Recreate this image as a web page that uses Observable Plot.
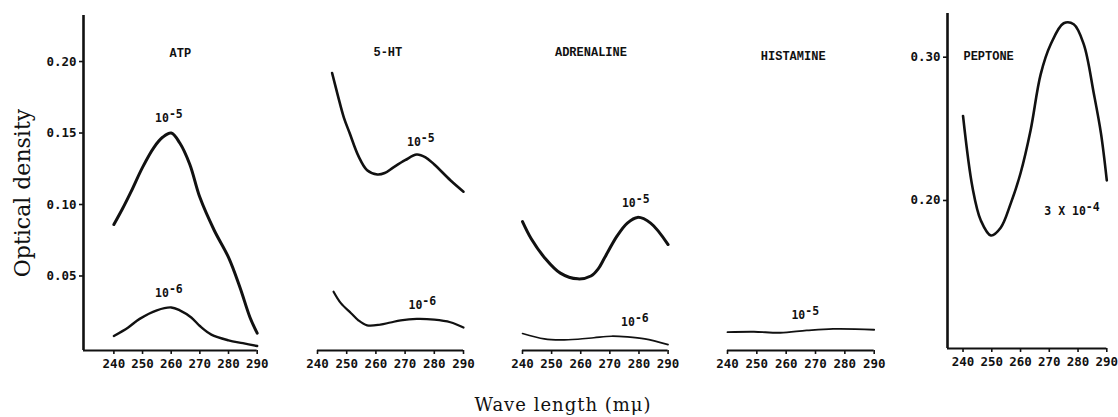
<!DOCTYPE html>
<html><head><meta charset="utf-8">
<script src="https://cdn.jsdelivr.net/npm/d3@7"></script>
<script src="https://cdn.jsdelivr.net/npm/@observablehq/plot@0.6"></script>
<style>
body{margin:0;background:#fff;}
#chart{position:relative;width:1118px;height:417px;overflow:hidden;background:#fff;}
#chart svg{position:absolute;top:0;background:transparent;}
.ylab{position:absolute;left:22px;top:193px;transform:translate(-50%,-50%) rotate(-90deg);font-family:"DejaVu Serif",serif;font-size:22px;white-space:nowrap;color:#111;}
.xlab{position:absolute;left:563px;top:404px;transform:translate(-50%,-50%);font-family:"DejaVu Serif",serif;font-size:18px;letter-spacing:1px;white-space:nowrap;color:#111;}
</style></head>
<body><div id="chart"><div class="ylab">Optical density</div><div class="xlab">Wave length (mμ)</div></div>
<script>
// ---- data ----
const wavelengthTicks = [240, 250, 260, 270, 280, 290];
const odTicksLeft = [0.05, 0.10, 0.15, 0.20];
const odTicksPeptone = [0.20, 0.30];

const atpWave5 = [240, 243, 246, 250, 254, 257, 260, 263, 266.5, 270, 275, 280, 284, 287.5, 290];
const atpOD5   = [0.086, 0.097, 0.109, 0.126, 0.140, 0.147, 0.150, 0.143, 0.128, 0.105, 0.082, 0.063, 0.042, 0.021, 0.010];
const atpWave6 = [240, 245, 249, 255, 260, 263, 267, 270, 274, 280, 285, 290];
const atpOD6   = [0.008, 0.014, 0.020, 0.026, 0.028, 0.026, 0.021, 0.015, 0.009, 0.005, 0.003, 0.001];

const htWave5 = [245, 247, 249, 251, 254, 257, 260.5, 263, 266, 270, 274, 277, 280, 285.5, 290];
const htOD5   = [0.192, 0.176, 0.161, 0.150, 0.134, 0.124, 0.121, 0.122, 0.126, 0.131, 0.135, 0.133, 0.128, 0.117, 0.109];
const htWave6 = [245.5, 248, 251.5, 254, 257, 261.5, 265, 268.5, 274, 280, 285.5, 290];
const htOD6   = [0.039, 0.031, 0.024, 0.019, 0.0155, 0.016, 0.0175, 0.019, 0.020, 0.0195, 0.0177, 0.014];

const adrWave5 = [240, 243, 247.5, 253, 259, 263.5, 266, 268, 272.5, 276, 279.5, 284, 290];
const adrOD5   = [0.088, 0.076, 0.063, 0.052, 0.048, 0.050, 0.055, 0.062, 0.078, 0.087, 0.091, 0.087, 0.072];
const adrWave6 = [240, 247.5, 253, 259, 264.5, 270.5, 276, 282, 290];
const adrOD6   = [0.0098, 0.006, 0.0053, 0.0058, 0.0068, 0.0079, 0.0074, 0.006, 0.002];

const hisWave5 = [240, 249, 258, 267, 276, 290];
const hisOD5   = [0.0107, 0.011, 0.0103, 0.0119, 0.013, 0.0124];

const pepWave = [240, 243.3, 246.2, 249.7, 253.1, 256.6, 260, 263.5, 267, 270.5, 275, 278.5, 282, 285.5, 288, 290];
const pepOD   = [0.259, 0.209, 0.186, 0.1756, 0.181, 0.198, 0.219, 0.249, 0.288, 0.309, 0.3237, 0.323, 0.309, 0.2745, 0.2465, 0.214];

const panelNames = ["ATP", "5-HT", "ADRENALINE", "HISTAMINE", "PEPTONE"];
const titleWave  = [263.2, 264.1, 263.5, 262.4, 248.9];
const titleOD    = [0.2056, 0.2063, 0.2063, 0.204, 0.301];

const labelPanel = [0, 0, 1, 1, 2, 2, 3, 4];
const labelBase  = ["10", "10", "10", "10", "10", "10", "10", "3 X 10"];
const labelExp   = ["-5", "-6", "-5", "-6", "-5", "-6", "-5", "-4"];
const labelWave  = [259.2, 259.2, 275.4, 275.9, 278.9, 278.6, 266.5, 282.7];
const labelOD    = [0.160, 0.0378, 0.1436, 0.0294, 0.101, 0.0173, 0.0224, 0.1925];

// ---- build ----
const zip = (ws, ods) => ws.map((w, i) => ({w, od: ods[i]}));
const labels = labelPanel.map((p, i) => ({p, w: labelWave[i], od: labelOD[i], base: labelBase[i], exp: labelExp[i]}));
const mono = "'DejaVu Sans Mono','Liberation Mono',monospace";
const mono2 = "'Liberation Mono','DejaVu Sans Mono',monospace";

const panels = [
  {xDomain: [229.4, 290], yDomain: [-0.0021, 0.2322], plotLeft: 83, plotRight: 256.7, top: 15, bottom: 350, yAxis: true, yTicks: odTicksLeft,
   series: [{d: zip(atpWave5, atpOD5), sw: 3}, {d: zip(atpWave6, atpOD6), sw: 2.4}]},
  {xDomain: [240, 290], yDomain: [-0.0021, 0.2322], plotLeft: 316.7, plotRight: 462.7, top: 15, bottom: 350, yAxis: false,
   series: [{d: zip(htWave5, htOD5), sw: 2.6}, {d: zip(htWave6, htOD6), sw: 2.2}]},
  {xDomain: [240, 290], yDomain: [-0.0021, 0.2322], plotLeft: 521.7, plotRight: 667.3, top: 15, bottom: 350, yAxis: false,
   series: [{d: zip(adrWave5, adrOD5), sw: 3}, {d: zip(adrWave6, adrOD6), sw: 1.6}]},
  {xDomain: [240, 290], yDomain: [-0.0021, 0.2322], plotLeft: 727.3, plotRight: 874, top: 15, bottom: 350, yAxis: false,
   series: [{d: zip(hisWave5, hisOD5), sw: 1.8}]},
  {xDomain: [234.6, 290], yDomain: [0.0967, 0.3305], plotLeft: 946.7, plotRight: 1106, top: 13, bottom: 348, yAxis: true, yTicks: odTicksPeptone,
   series: [{d: zip(pepWave, pepOD), sw: 2.6}]}
];

const chart = document.getElementById("chart");
const H = 390;
panels.forEach((cfg, k) => {
  const mL = cfg.yAxis ? 45 : 22;
  const mR = 12;
  const width = (cfg.plotRight - cfg.plotLeft) + mL + mR;
  const marks = [];
  marks.push(Plot.ruleY([cfg.yDomain[0]], {strokeWidth: 2, stroke: "#111"}));
  if (cfg.yAxis) {
    marks.push(Plot.ruleX([cfg.xDomain[0]], {strokeWidth: 2.6, stroke: "#111"}));
    marks.push(Plot.axisY({ticks: cfg.yTicks, tickFormat: d => d.toFixed(2), tickSize: 4, tickPadding: 3, fontSize: 12.5, fontWeight: "bold", fontFamily: mono, strokeWidth: 1.6, label: null}));
  }
  marks.push(Plot.axisX({ticks: wavelengthTicks, tickFormat: d => String(d), tickSize: 4, tickPadding: 5, fontSize: 12.5, fontWeight: "bold", fontFamily: mono, strokeWidth: 1.6, label: null}));
  for (const s of cfg.series) {
    marks.push(Plot.line(s.d, {x: "w", y: "od", curve: "catmull-rom", strokeWidth: s.sw, stroke: "#111", strokeLinecap: "round"}));
  }
  marks.push(Plot.text([k], {x: i => titleWave[i], y: i => titleOD[i], text: i => panelNames[i], fontSize: 12, fontWeight: "bold", fontFamily: mono2, fill: "#111"}));
  const lab = labels.filter(l => l.p === k);
  marks.push(Plot.text(lab, {x: "w", y: "od", text: "base", textAnchor: "end", fontSize: 11.5, fontWeight: "bold", fontFamily: mono, fill: "#111"}));
  marks.push(Plot.text(lab, {x: "w", y: "od", text: "exp", textAnchor: "start", dy: -4, fontSize: 11.5, fontWeight: "bold", fontFamily: mono, fill: "#111"}));
  const opts = {
    width, height: H, marginLeft: mL, marginRight: mR, marginTop: cfg.top, marginBottom: H - cfg.bottom,
    x: {domain: cfg.xDomain},
    y: cfg.yAxis ? {domain: cfg.yDomain} : {domain: cfg.yDomain, axis: null},
    style: {background: "transparent", color: "#111", overflow: "visible"},
    marks
  };
  const svg = Plot.plot(opts);
  svg.style.position = "absolute";
  svg.style.left = (cfg.plotLeft - mL) + "px";
  svg.style.top = "0px";
  svg.style.maxWidth = "none";
  chart.appendChild(svg);
});
</script></body></html>
